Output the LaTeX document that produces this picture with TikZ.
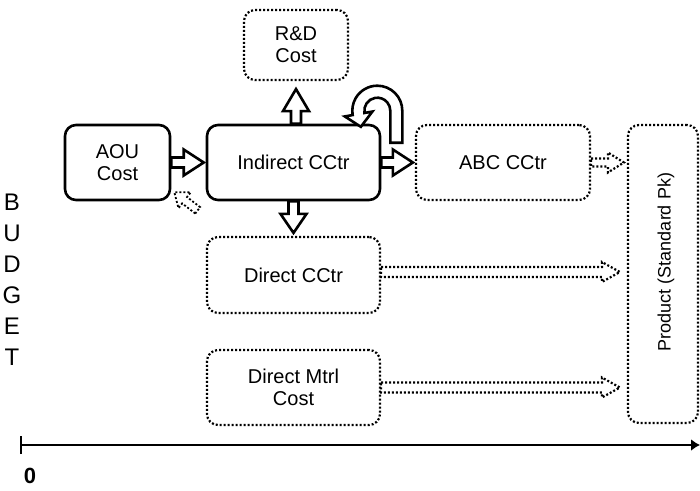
\documentclass[tikz,border=0pt]{standalone}
\usepackage{fontspec}
\setmainfont{Liberation Sans}
\usetikzlibrary{calc,arrows.meta}

\newcommand\boxfont{\fontsize{20}{22}\selectfont}
\newcommand\axisfont{\fontsize{24}{31}\selectfont}

% hollow block arrow: #1 style, #2 tail, #3 tip, #4 shaft half-width,
% #5 head half-width, #6 head length
\newcommand\blockarrow[6]{%
  \coordinate (bas) at (#2);
  \coordinate (bae) at (#3);
  \coordinate (bah) at ($(bae)!#6!(bas)$);
  \draw[#1] ($(bas)!#4!90:(bae)$) -- ($(bah)!#4!90:(bae)$)
    -- ($(bah)!#5!90:(bae)$) -- (bae) -- ($(bah)!#5!-90:(bae)$)
    -- ($(bah)!#4!-90:(bae)$) -- ($(bas)!#4!-90:(bae)$) -- cycle;
}

\begin{document}
\begin{tikzpicture}[x=1pt,y=-1pt,
  solidbox/.style={draw, line width=2.6pt, rounded corners=11pt, fill=white,
    align=center, inner sep=0pt, font=\boxfont},
  dotbox/.style={draw, line width=2.2pt, dash pattern=on 2pt off 2pt,
    rounded corners=11pt, fill=white, align=center, inner sep=0pt, font=\boxfont},
  solidarrow/.style={draw, line width=2.6pt, fill=white},
  dotarrow/.style={draw, line width=2.2pt, dash pattern=on 2pt off 2pt, fill=white},
]
\useasboundingbox (0,0) rectangle (700,490);

% cost blocks
\node[solidbox, minimum width=105pt, minimum height=75pt] (aou) at (117.5,162.5) {AOU\\Cost};
\node[solidbox, minimum width=173pt, minimum height=75pt] (ind) at (293.5,162.5) {Indirect CCtr};
\node[dotbox, minimum width=104pt, minimum height=70pt] (rd) at (296,45) {R\&D\\Cost};
\node[dotbox, minimum width=174pt, minimum height=75pt] (abc) at (503,162.5) {ABC CCtr};
\node[dotbox, minimum width=173pt, minimum height=76pt] (dcc) at (293.5,275) {Direct CCtr};
\node[dotbox, minimum width=173pt, minimum height=75pt] (dmc) at (293.5,387.5) {Direct Mtrl\\Cost};
\node[dotbox, minimum width=70pt, minimum height=298pt] (prod) at (663,274) {};
\node[rotate=90, font=\fontsize{18}{18}\selectfont] (prodlabel) at ($(prod.center)+(3,-12)$) {Product (Standard Pk)};

% solid flows
\blockarrow{solidarrow}{aou.east}{$(ind.west)+(-2,0)$}{5pt}{13pt}{20pt}
\blockarrow{solidarrow}{ind.east}{$(abc.west)+(-2,0)$}{5pt}{13pt}{20pt}
\blockarrow{solidarrow}{rd.south |- ind.north}{$(rd.south)+(0,8)$}{5pt}{13pt}{22pt}
\blockarrow{solidarrow}{ind.south}{$(dcc.north)+(0,-3)$}{5pt}{13pt}{19pt}

% self loop on the indirect cost centre (drawn in y-up local axes)
\coordinate (lc) at ($(ind.north east)+(-4,-13)$);
\begin{scope}[shift={(lc)}, x=1pt, y=1pt]
  \draw[solidarrow] (0:25) arc[start angle=0, end angle=190, radius=25]
    -- (190:33) -- ($(190:19)+(-80:13)$) -- (190:5) -- (190:13)
    arc[start angle=190, end angle=0, radius=13] -- (13,-32) -- (25,-32) -- cycle;
\end{scope}

% dotted flows
\blockarrow{dotarrow}{abc.east}{$(prod.west |- abc.east)+(-3,0)$}{4pt}{10pt}{16pt}
\blockarrow{dotarrow}{$(dcc.east)+(0,-3)$}{$(prod.west |- dcc.east)+(-7,-3)$}{5pt}{10pt}{18pt}
\blockarrow{dotarrow}{dmc.east}{$(prod.west |- dmc.east)+(-7,0)$}{5pt}{10pt}{18pt}
\blockarrow{dotarrow, line width=1.8pt}{$(ind.south west)+(-8,9)$}{$(aou.south east)+(3,-9)$}{4pt}{10pt}{13pt}

% budget axis
\node[align=center, font=\axisfont] (budget) at (12,280) {B\\U\\D\\G\\E\\T};
\coordinate (ax0) at (20,445);
\coordinate (ax1) at (700,445);
\draw[line width=2.5pt, {Bar[width=18pt,line width=2pt]}-{Latex[length=9pt,width=12pt]}] (ax0) -- (ax1);
\node[font=\bfseries\fontsize{22}{22}\selectfont] (zero) at (30,476) {0};
\end{tikzpicture}
\end{document}
